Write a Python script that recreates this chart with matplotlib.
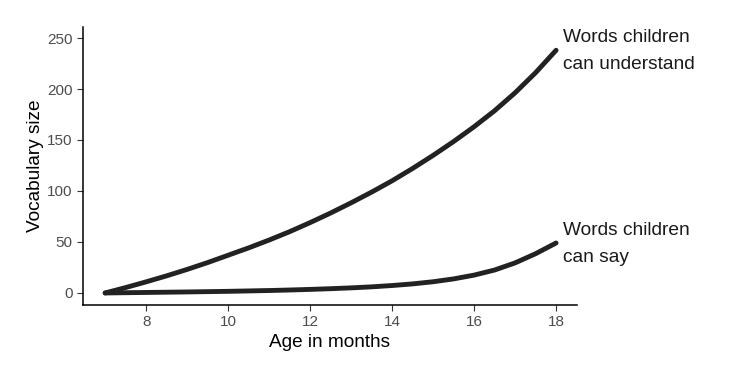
import matplotlib
matplotlib.use("Agg")
import matplotlib.pyplot as plt

months = [7, 7.5, 8, 8.5, 9, 9.5, 10, 10.5, 11, 11.5, 12, 12.5,
          13, 13.5, 14, 14.5, 15, 15.5, 16, 16.5, 17, 17.5, 18]
understand = [0, 5.3, 10.9, 16.8, 23.1, 29.8, 37, 44.2, 51.9, 60.1, 69, 78.4,
              88.4, 98.9, 110, 122.1, 134.9, 148.5, 163, 178.7, 196.3, 216, 238]
say = [0, 0.25, 0.5, 0.75, 1, 1.3, 1.6, 2, 2.4, 2.9, 3.5, 4.2,
       5, 6, 7.3, 8.9, 11, 13.8, 17.5, 22.5, 29.5, 38.5, 49]
labels = ["Words children\ncan understand", "Words children\ncan say"]
xticks = [8, 10, 12, 14, 16, 18]
yticks = [0, 50, 100, 150, 200, 250]

plt.rcParams['font.family'] = ['Liberation Sans', 'DejaVu Sans']
fig = plt.figure(figsize=(7.54, 3.77), dpi=100)
ax = fig.add_axes([83/754, 1 - 305/377, (577 - 83)/754, (305 - 27)/377])

for ys in (understand, say):
    ax.plot(months, ys, color='#222222', lw=3.5, solid_capstyle='round',
            solid_joinstyle='round', clip_on=False)

for ys, lab in zip((understand, say), labels):
    ax.text(18.17, ys[-1] - 1, lab, fontsize=13.8, color='#1a1a1a',
            va='center', ha='left', linespacing=1.8, clip_on=False)

ax.set_xlim(6.46, 18.51)
ax.set_ylim(-11.8, 260.8)
ax.set_xticks(xticks)
ax.set_yticks(yticks)
ax.tick_params(labelcolor='#4d4d4d', labelsize=11, length=4, width=0.8,
               color='#333333')
for s in ('top', 'right'):
    ax.spines[s].set_visible(False)
for s in ('left', 'bottom'):
    ax.spines[s].set_linewidth(1.1)
    ax.spines[s].set_color('black')
ax.set_xlabel("Age in months", fontsize=13.7, color='black', labelpad=3)
ax.set_ylabel("Vocabulary size", fontsize=13.7, color='black', labelpad=2)

fig.savefig("out.png", dpi=100)
